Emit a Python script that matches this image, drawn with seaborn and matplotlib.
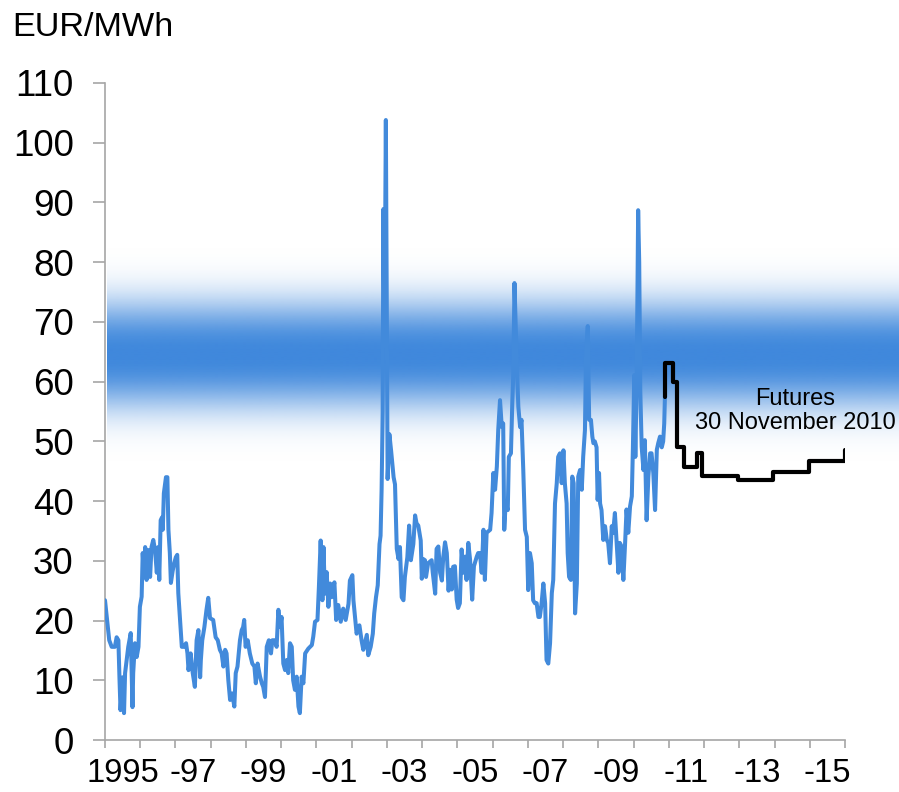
import numpy as np
import matplotlib
matplotlib.use("Agg")
import matplotlib.pyplot as plt
import seaborn as sns
from matplotlib.colors import to_rgb

sns.set_style("white")
plt.rcParams['font.family'] = ['Liberation Sans', 'DejaVu Sans']
plt.rcParams['text.color'] = 'black'
plt.rcParams['xtick.labelcolor'] = 'black'
plt.rcParams['ytick.labelcolor'] = 'black'

# spot price (decimal year, EUR/MWh)
spot_year = [
    1995.00, 1995.05, 1995.09, 1995.12, 1995.19, 1995.28, 1995.33, 1995.38, 1995.41, 1995.44,
    1995.50, 1995.54, 1995.57, 1995.66, 1995.73, 1995.78, 1995.80, 1995.85, 1995.90, 1995.95,
    1995.99, 1996.04, 1996.07, 1996.11, 1996.14, 1996.18, 1996.23, 1996.28, 1996.32, 1996.37,
    1996.42, 1996.47, 1996.51, 1996.54, 1996.58, 1996.62, 1996.64, 1996.67, 1996.73, 1996.77,
    1996.80, 1996.84, 1996.87, 1996.92, 1996.96, 1997.01, 1997.05, 1997.08, 1997.13, 1997.18,
    1997.24, 1997.30, 1997.34, 1997.37, 1997.43, 1997.49, 1997.55, 1997.60, 1997.65, 1997.70,
    1997.72, 1997.76, 1997.82, 1997.88, 1997.93, 1997.98, 1998.07, 1998.14, 1998.20, 1998.26,
    1998.31, 1998.36, 1998.41, 1998.45, 1998.50, 1998.55, 1998.61, 1998.67, 1998.71, 1998.76,
    1998.83, 1998.88, 1998.92, 1998.95, 1998.99, 1999.05, 1999.11, 1999.18, 1999.24, 1999.28,
    1999.33, 1999.40, 1999.45, 1999.49, 1999.54, 1999.59, 1999.65, 1999.71, 1999.75, 1999.82,
    1999.87, 1999.92, 1999.97, 2000.01, 2000.06, 2000.11, 2000.16, 2000.20, 2000.25, 2000.30,
    2000.34, 2000.39, 2000.44, 2000.49, 2000.53, 2000.58, 2000.63, 2000.68, 2000.77, 2000.87,
    2000.91, 2000.96, 2001.03, 2001.07, 2001.12, 2001.17, 2001.20, 2001.24, 2001.29, 2001.34,
    2001.39, 2001.43, 2001.51, 2001.56, 2001.62, 2001.69, 2001.76, 2001.83, 2001.91, 2001.95,
    2002.02, 2002.05, 2002.10, 2002.14, 2002.22, 2002.28, 2002.33, 2002.43, 2002.47, 2002.54,
    2002.60, 2002.64, 2002.69, 2002.74, 2002.79, 2002.82, 2002.85, 2002.88, 2002.90, 2002.93,
    2002.97, 2003.02, 2003.07, 2003.12, 2003.19, 2003.23, 2003.28, 2003.33, 2003.37, 2003.42,
    2003.47, 2003.51, 2003.58, 2003.63, 2003.68, 2003.75, 2003.80, 2003.84, 2003.89, 2003.96,
    2003.99, 2004.03, 2004.08, 2004.11, 2004.17, 2004.21, 2004.27, 2004.30, 2004.37, 2004.41,
    2004.46, 2004.51, 2004.56, 2004.60, 2004.65, 2004.70, 2004.75, 2004.79, 2004.84, 2004.88,
    2004.93, 2004.98, 2005.02, 2005.07, 2005.12, 2005.17, 2005.22, 2005.26, 2005.31, 2005.36,
    2005.42, 2005.47, 2005.55, 2005.59, 2005.64, 2005.69, 2005.74, 2005.78, 2005.83, 2005.93,
    2005.97, 2006.02, 2006.07, 2006.12, 2006.16, 2006.21, 2006.26, 2006.30, 2006.33, 2006.37,
    2006.43, 2006.46, 2006.52, 2006.56, 2006.59, 2006.62, 2006.68, 2006.73, 2006.78, 2006.82,
    2006.87, 2006.92, 2006.97, 2007.01, 2007.06, 2007.11, 2007.15, 2007.20, 2007.25, 2007.30,
    2007.34, 2007.39, 2007.44, 2007.49, 2007.53, 2007.58, 2007.63, 2007.68, 2007.72, 2007.77,
    2007.82, 2007.86, 2007.91, 2007.96, 2008.01, 2008.05, 2008.10, 2008.13, 2008.17, 2008.22,
    2008.26, 2008.30, 2008.34, 2008.39, 2008.43, 2008.48, 2008.53, 2008.57, 2008.62, 2008.65,
    2008.70, 2008.74, 2008.79, 2008.83, 2008.86, 2008.90, 2008.95, 2008.98, 2009.02, 2009.05,
    2009.09, 2009.14, 2009.19, 2009.24, 2009.28, 2009.33, 2009.38, 2009.42, 2009.47, 2009.52,
    2009.57, 2009.61, 2009.66, 2009.71, 2009.76, 2009.80, 2009.85, 2009.90, 2009.95, 2009.98,
    2010.02, 2010.05, 2010.09, 2010.13, 2010.16, 2010.19, 2010.23, 2010.28, 2010.32, 2010.37,
    2010.42, 2010.47, 2010.51, 2010.56, 2010.61, 2010.66, 2010.70, 2010.75, 2010.80, 2010.84,
    2010.87, 2010.89,
]
spot_price = [
    23.4, 20.6, 18.4, 16.7, 15.6, 15.6, 17.2, 16.7, 10.5, 5.0,
    10.5, 4.5, 11.2, 15.6, 17.9, 5.5, 11.2, 16.2, 13.9, 15.6,
    22.3, 24.0, 31.3, 27.3, 32.3, 26.8, 31.8, 27.3, 32.3, 33.5,
    31.8, 28.0, 32.3, 26.8, 36.8, 37.3, 35.2, 41.3, 44.0, 44.0,
    35.2, 31.3, 26.3, 28.3, 29.5, 30.6, 31.0, 24.6, 20.1, 15.6,
    15.6, 16.2, 14.5, 11.7, 14.5, 11.2, 8.9, 16.7, 18.4, 10.5,
    13.4, 16.7, 18.9, 21.8, 23.8, 20.4, 20.1, 17.2, 16.7, 15.1,
    14.5, 12.3, 15.1, 14.5, 10.0, 6.7, 7.8, 5.6, 11.2, 12.3,
    16.7, 18.4, 18.9, 20.1, 15.6, 16.7, 14.5, 12.8, 12.3, 9.5,
    12.8, 10.6, 9.5, 8.9, 7.2, 15.6, 16.7, 14.5, 16.7, 16.7,
    15.6, 21.8, 18.9, 20.6, 12.8, 11.7, 13.4, 11.2, 16.2, 15.6,
    10.0, 8.4, 10.6, 5.6, 4.5, 10.6, 9.5, 14.5, 15.3, 15.9,
    17.3, 19.8, 20.1, 25.6, 33.4, 23.4, 32.3, 24.5, 28.1, 22.3,
    26.2, 23.9, 26.4, 20.1, 22.6, 19.8, 22.0, 20.1, 22.8, 26.7,
    27.6, 23.4, 20.3, 17.8, 19.2, 16.7, 15.1, 17.6, 14.2, 15.6,
    17.8, 21.2, 23.9, 25.9, 32.8, 34.2, 42.0, 55.0, 88.9, 66.0,
    103.8, 43.7, 51.2, 48.4, 44.0, 42.8, 32.0, 30.3, 32.3, 23.9,
    23.4, 27.3, 30.6, 35.9, 30.1, 32.8, 37.6, 36.3, 35.9, 33.4,
    27.0, 30.3, 30.1, 27.3, 29.6, 29.8, 30.1, 28.1, 24.5, 32.0,
    32.4, 28.0, 26.7, 30.7, 33.1, 31.3, 25.0, 28.5, 25.2, 29.0,
    29.1, 23.5, 22.1, 22.9, 31.9, 28.0, 30.7, 26.8, 33.0, 30.2,
    23.5, 29.1, 30.7, 31.3, 31.3, 28.0, 35.2, 26.8, 34.7, 35.2,
    38.0, 44.7, 41.9, 45.8, 52.0, 56.9, 52.4, 53.0, 35.2, 39.6,
    38.5, 47.4, 48.0, 56.9, 61.9, 76.5, 64.1, 55.8, 52.4, 53.6,
    45.2, 35.2, 34.0, 25.1, 31.3, 29.6, 23.4, 22.9, 22.9, 20.6,
    20.6, 22.9, 26.2, 22.9, 13.4, 12.8, 16.2, 24.6, 26.8, 39.6,
    43.0, 47.4, 48.0, 43.0, 48.5, 43.0, 39.6, 31.3, 27.3, 26.8,
    44.1, 43.0, 21.2, 26.2, 44.1, 45.2, 41.9, 47.4, 51.9, 64.1,
    69.3, 53.6, 53.6, 50.8, 49.7, 50.0, 49.0, 40.2, 44.7, 39.6,
    38.5, 33.5, 35.8, 33.5, 33.0, 29.6, 35.8, 34.7, 38.0, 33.0,
    28.0, 33.0, 32.4, 26.8, 33.0, 38.6, 34.7, 39.1, 40.8, 48.6,
    61.1, 47.4, 60.8, 88.7, 80.0, 58.6, 49.1, 45.2, 50.2, 36.8,
    44.1, 48.0, 48.0, 44.7, 38.5, 48.6, 49.7, 50.8, 49.0, 50.0,
    53.0, 57.5,
]

# futures curve as of 30 November 2010 (step start, price)
futures_year = [2010.89, 2010.89, 2011.12, 2011.23, 2011.43, 2011.80, 2011.94,
                2012.96, 2013.96, 2014.98, 2015.94, 2016.00]
futures_price = [57.5, 63.1, 60.0, 49.1, 45.7, 48.1, 44.2,
                 43.5, 44.9, 46.7, 46.7, 48.6]

year_ticks = list(range(1995, 2017))
label_years = [1995.5, 1997.5, 1999.5, 2001.5, 2003.5, 2005.5,
               2007.5, 2009.5, 2011.5, 2013.5, 2015.5]
label_text = ['1995', '-97', '-99', '-01', '-03', '-05', '-07', '-09', '-11', '-13', '-15']

blue = '#428ADB'
grey = '#A6A6A6'

fig = plt.figure(figsize=(8.99, 7.92), dpi=100)
ax = fig.add_axes([105 / 899, 52 / 792, 740 / 899, 657 / 792])

# soft blue band around 65 EUR/MWh
yy = np.linspace(44, 86, 400)
alpha = np.exp(-(np.abs(yy - 64.5) / 9.0) ** 2.5)
rgba = np.zeros((len(yy), 1, 4))
rgba[..., :3] = to_rgb('#3F88DC')
rgba[:, 0, 3] = alpha
ax.imshow(rgba, origin='lower', extent=[1995.05, 2017.6, 44, 86], aspect='auto',
          interpolation='bilinear', zorder=0, clip_on=False)

sns.lineplot(x=spot_year, y=spot_price, ax=ax, color=blue, linewidth=2.9,
             estimator=None, sort=False, zorder=3,
             solid_joinstyle='round', solid_capstyle='round')
sns.lineplot(x=futures_year, y=futures_price, ax=ax, color='black', linewidth=3.0,
             estimator=None, sort=False, drawstyle='steps-post', zorder=4)

ax.set_xlim(1995, 2016)
ax.set_ylim(0, 110)
ax.set_xlabel('')
ax.set_ylabel('')

for side in ['top', 'right']:
    ax.spines[side].set_visible(False)
for side in ['left', 'bottom']:
    ax.spines[side].set_color(grey)
    ax.spines[side].set_linewidth(1.2)

ax.set_yticks(range(0, 111, 10))
ax.tick_params(axis='y', left=True, direction='out', length=8.5, width=1.2,
               color=grey, labelsize=26.5, pad=14, labelcolor='black')

ax.set_xticks(year_ticks)
ax.set_xticklabels([])
ax.set_xticks(label_years, minor=True)
ax.set_xticklabels(label_text, minor=True)
ax.tick_params(axis='x', which='major', bottom=True, direction='out', length=6,
               width=1.2, color=grey)
ax.tick_params(axis='x', which='minor', bottom=True, length=0, labelsize=23.5, pad=13,
               labelcolor='black')

ax.text(2014.58, 55.1, 'Futures\n30 November 2010', ha='center', va='center',
        fontsize=17, linespacing=1.1, color='black', zorder=5)

fig.text(12.5 / 899, 1 - 36 / 792, 'EUR/MWh', fontsize=24.7, ha='left', va='baseline',
         color='black')

fig.savefig('out.png', dpi=100)
